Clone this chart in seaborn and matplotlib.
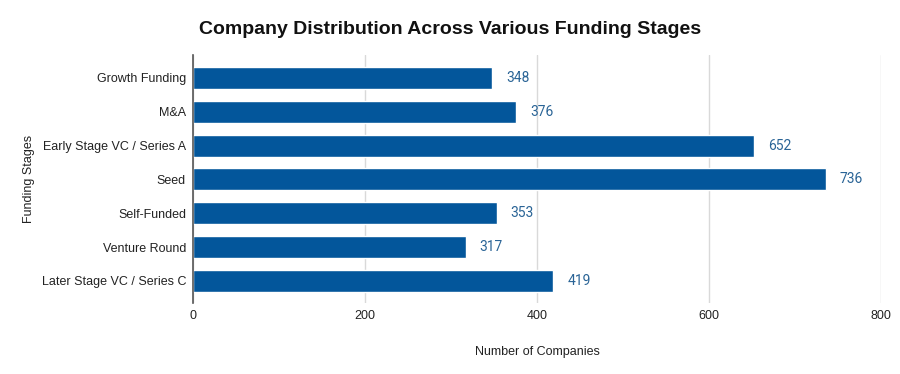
import pandas as pd
import seaborn as sns
import matplotlib.pyplot as plt

stages = [
    "Growth Funding",
    "M&A",
    "Early Stage VC / Series A",
    "Seed",
    "Self-Funded",
    "Venture Round",
    "Later Stage VC / Series C",
]
companies = [348, 376, 652, 736, 353, 317, 419]

BAR_COLOR = "#03569b"
LABEL_COLOR = "#2a6496"

sns.set_theme(style="whitegrid")
plt.rcParams['font.family'] = ['Liberation Sans', 'DejaVu Sans']

df = pd.DataFrame({"Stage": stages, "Companies": companies})

fig = plt.figure(figsize=(9, 3.74), dpi=100)
ax = fig.add_axes([0.2144, 0.19, 0.7646, 0.663])
sns.barplot(data=df, x="Companies", y="Stage", color=BAR_COLOR, width=0.65,
            saturation=1, ax=ax)

for container in ax.containers:
    ax.bar_label(container, padding=10, color=LABEL_COLOR, fontsize=10,
                 family=['Roboto', 'DejaVu Sans'])

ax.set_xlim(0, 800)
ax.set_ylim(6.65, -0.68)
ax.set_xticks([0, 200, 400, 600, 800])
ax.grid(axis="x", color="#d9d9d9", linewidth=1)
ax.grid(axis="y", visible=False)
for side in ["top", "right", "bottom"]:
    ax.spines[side].set_visible(False)
ax.spines["left"].set_color("#555555")
ax.spines["left"].set_linewidth(1.2)
ax.tick_params(axis="both", labelsize=9, colors="#222222", length=0, pad=5)

ax.set_xlabel("Number of Companies", fontsize=9, color="#222222")
ax.set_ylabel("Funding Stages", fontsize=9, color="#222222")
ax.xaxis.set_label_coords(0.5, -0.175)
ax.yaxis.set_label_coords(-0.229, 0.5)
fig.text(0.5, 0.92, "Company Distribution Across Various Funding Stages",
         ha="center", va="center", fontsize=14, fontweight="bold", color="#111111")

fig.savefig("out.png", dpi=100)
plt.close(fig)
